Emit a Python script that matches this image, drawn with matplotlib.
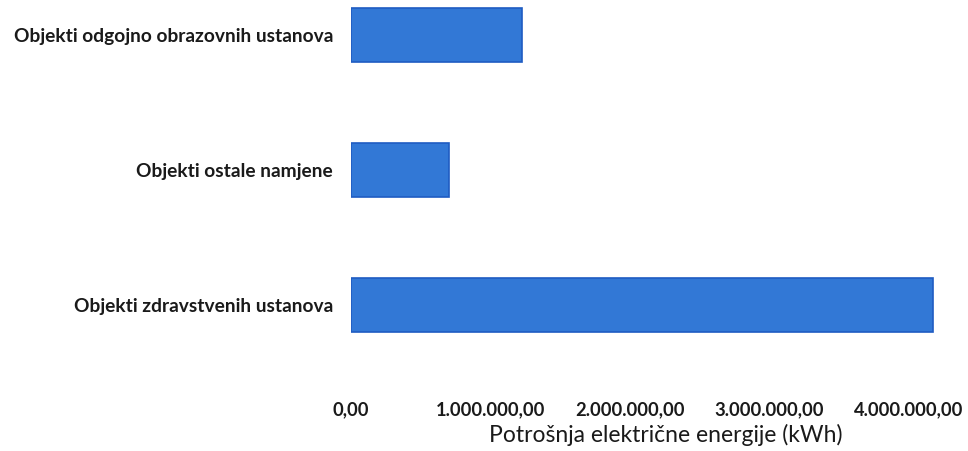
import matplotlib.pyplot as plt
from matplotlib.ticker import FuncFormatter

# categories bottom to top
categories = ['Objekti zdravstvenih ustanova', 'Objekti ostale namjene',
              'Objekti odgojno obrazovnih ustanova']
values = [4180000, 700000, 1225000]
ticks = [0, 1000000, 2000000, 3000000, 4000000]


def hr_fmt(x, pos):
    s = '{:,.2f}'.format(x)
    return s.replace(',', 'X').replace('.', ',').replace('X', '.')


W, H = 968, 451
fig = plt.figure(figsize=(W / 100, H / 100), dpi=100)
left, right, top, bottom = 351, 950, 0, 390
ax = fig.add_axes([left / W, 1 - bottom / H, (right - left) / W, (bottom - top) / H])

ax.barh(range(len(categories)), values, height=0.4, color='#3278d6',
        edgecolor='#1f5cc2', linewidth=1.2)

ax.set_xlim(0, (right - left) / 139.3 * 1e6)
ax.set_ylim(-(bottom - 305) / 135, 2 + 35 / 135)
ax.set_xticks(ticks)
ax.xaxis.set_major_formatter(FuncFormatter(hr_fmt))
ax.set_yticks(range(len(categories)))
ax.set_yticklabels(categories)

for s in ax.spines.values():
    s.set_visible(False)
ax.tick_params(length=0)
ax.tick_params(axis='y', pad=13)
ax.tick_params(axis='x', pad=8)

for lab in ax.get_yticklabels():
    lab.set_fontfamily('Lato')
    lab.set_fontweight('bold')
    lab.set_fontsize(13.8)
    lab.set_color('#1a1a1a')
for lab in ax.get_xticklabels():
    lab.set_fontfamily('Lato')
    lab.set_fontweight('bold')
    lab.set_fontsize(13.2)
    lab.set_color('#1a1a1a')

ax.set_xlabel('Potrošnja električne energije (kWh)', fontfamily='Lato',
              fontsize=16.5, color='#1a1a1a')
ax.xaxis.set_label_coords(0.526, -0.088)

fig.savefig('out.png', dpi=100)
